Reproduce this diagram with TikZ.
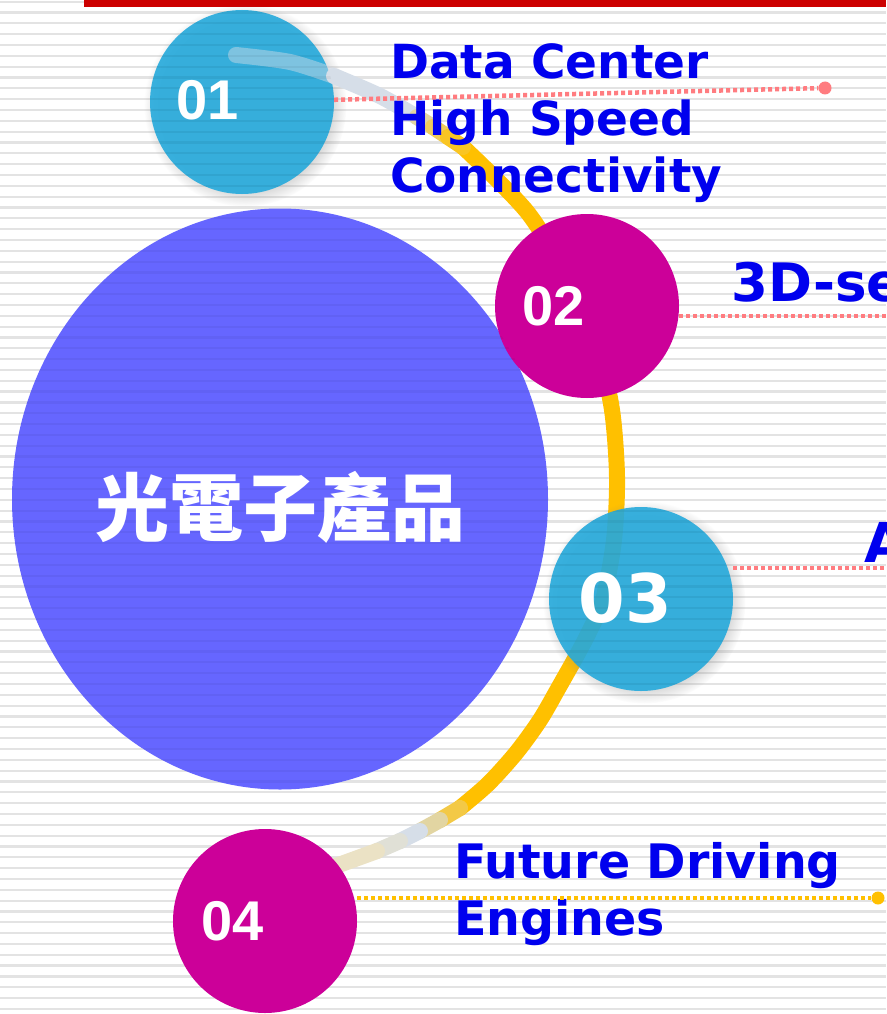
\documentclass[tikz,border=0pt]{standalone}
\usepackage{fontspec}
\setmainfont{DejaVu Sans}
\newfontfamily\numfont{Liberation Sans}
\newfontfamily\cjk{Noto Sans CJK TC}
\usetikzlibrary{positioning, shapes.geometric, shadows}

\definecolor{barred}{HTML}{CC0000}
\definecolor{ballcyan}{HTML}{25AADC}
\definecolor{ballmag}{HTML}{CC0099}
\definecolor{ballblue}{HTML}{6666FF}
\definecolor{txtblue}{HTML}{0000EE}
\definecolor{arcyel}{HTML}{FFC000}
\definecolor{arcpale}{HTML}{D6DEE8}
\definecolor{arccream}{HTML}{EBE2C5}
\definecolor{dotred}{HTML}{FF7C80}
\definecolor{stripe}{HTML}{E3E3E3}

\begin{document}
\begin{tikzpicture}[x=1pt, y=-1pt,
	ball/.style={circle, minimum size=184pt, inner sep=0pt},
	shade ball/.style={ball, fill=ballcyan, fill opacity=.9,
		circular drop shadow={shadow xshift=3pt, shadow yshift=-3pt, opacity=.3}},
	num/.style={text=white, inner sep=0pt, font=\numfont\bfseries\fontsize{56}{56}\selectfont},
	topic/.style={text=txtblue, inner sep=0pt, anchor=base west, align=left,
		font=\bfseries\fontsize{47}{57}\selectfont},
	dotline/.style={line width=4.5pt, dash pattern=on 4pt off 3pt},
	enddot/.style={circle, minimum size=13pt, inner sep=0pt},
	arcline/.style={line width=16pt, line cap=round}]

	% page, stripes, top bar
	\clip (0,0) rectangle (886,1014);
	\fill[white] (0,0) rectangle (886,1014);
	\foreach \k in {0,...,93}
		\draw[stripe, line width=2.2pt] (0,{1.7+10.83*\k}) -- (886,{1.7+10.83*\k});
	\fill[barred] (84,0) rectangle (886,7);

	\node[ellipse, fill=ballblue, minimum width=536pt, minimum height=581pt, inner sep=0pt] (prod) at (280,499) {};

	% yellow arc
	\draw[arcline, arcyel] plot[smooth, tension=0.5] coordinates {(463,147) (528,213) (571,285) (598,350) (612,410) (617,477) (614,540) (603,600) (590,630) (577,655) (559,687) (540,720) (516,753) (488,784) (460,808)};
	\foreach \p/\q/\c in {{(460,808)}/{(440,820)}/70, {(440,820)}/{(420,831)}/30, {(420,831)}/{(400,841)}/0}
		\draw[arcline, arcyel!\c!arcpale] \p -- \q;
	\draw[arcline, arccream!50!arcpale] (400,841) -- (377,851);
	\draw[arcline, arccream] (377,851) -- (333,867);

	\node[ball, fill=ballmag] 	(c2) at (587,306) {};
	\node[shade ball] 			(c3) at (641,599) {};
	\node[ball, fill=ballmag] 	(c4) at (265,921) {};
	\node[shade ball] 			(c1) at (242,102) {};

	\draw[arcline, arcpale, opacity=.45] plot[smooth] coordinates {(236,55) (290,62) (334,76)};
	\draw[arcline, arcpale] plot[smooth] coordinates {(334,76) (380,96) (417,117)};
	\foreach \p/\q/\c in {{(417,117)}/{(433,127)}/30, {(433,127)}/{(448,137)}/60, {(448,137)}/{(463,147)}/85}
		\draw[arcline, arcyel!\c!arcpale] \p -- \q;

	% stripes seen through the round shapes
	\begin{scope}
		\clip (prod.center) ellipse [x radius=268, y radius=290] (c1.center) circle [radius=92] (c3.center) circle [radius=92];
		\foreach \k in {0,...,93}
			\draw[black, opacity=.045, line width=2.2pt] (0,{1.7+10.83*\k}) -- (886,{1.7+10.83*\k});
	\end{scope}

	\node[text=white, inner sep=0pt, font=\cjk\bfseries\fontsize{74}{74}\selectfont] (prodtxt) at (280,507) {光電子產品};

	\node[num] 	(n1) at (208,100) {01};
	\node[num] 	(n2) at (554,306) {02};
	\node[num, font=\bfseries\fontsize{67}{67}\selectfont] (n3) at (625,598) {03};
	\node[num] 	(n4) at (233,921) {04};

	% multi-line nodes sit on the baseline of their last line
	\node[topic] 	(t1) at (390,192) 	{Data Center\\High Speed\\Connectivity};
	\node[topic, font=\bfseries\fontsize{53}{53}\selectfont] (t2) at (731,301) {3D-se};
	\node[topic, font=\bfseries\fontsize{55}{55}\selectfont] (t3) at (864,562) {A};
	\node[topic, font=\bfseries\fontsize{47.5}{57}\selectfont] (t4) at (454,935) {Future Driving\\Engines};

	% dotted leaders
	\node[enddot, fill=dotred] 	(d1) at (825,88) {};
	\node[enddot, fill=arcyel] 	(d4) at (878,898) {};
	\coordinate (e2) at (886,316);
	\coordinate (e3) at (886,568);

	\draw[dotline, dotred] (c1) -- (d1);
	\draw[dotline, dotred] (e2 -| c2.east) -- (e2);
	\draw[dotline, dotred] (e3 -| c3.east) -- (e3);
	\draw[dotline, arcyel] (d4 -| c4.east) -- (d4);
\end{tikzpicture}
\end{document}
